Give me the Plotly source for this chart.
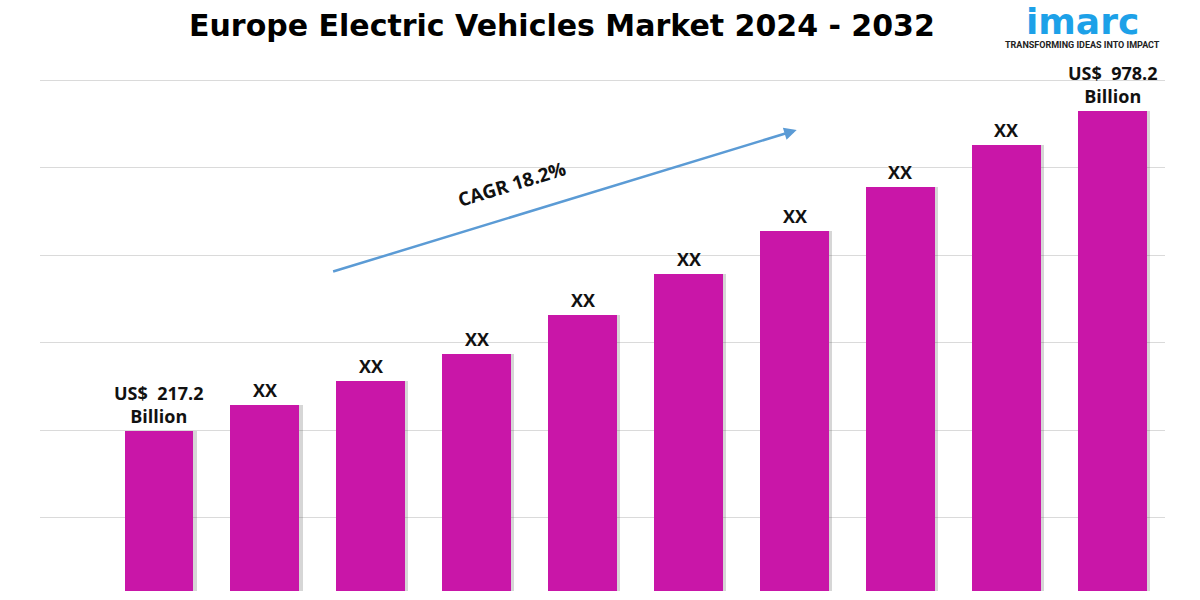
import plotly.graph_objects as go

# ---- data ----
years = ["2023", "2024", "2025", "2026", "2027", "2028", "2029", "2030", "2031", "2032"]
# bar heights (arbitrary chart units, baseline = 0)
bar_heights = [160, 186, 210, 237, 276, 317, 360, 404, 446, 480]
bar_labels = ["US$  217.2<br>Billion", "XX", "XX", "XX", "XX", "XX", "XX", "XX", "XX",
              "US$  978.2<br>Billion"]
title_text = "Europe Electric Vehicles Market 2024 - 2032"
cagr_text = "CAGR 18.2%"

BAR_COLOR = "#C916A8"
xs = list(range(len(years)))

fig = go.Figure()
# soft shadow
fig.add_trace(go.Bar(
    x=[x + 0.03 for x in xs], y=[h + 2 for h in bar_heights], base=-2, width=0.65,
    marker=dict(color="rgba(90,90,90,0.25)", line=dict(width=0)),
    hoverinfo="skip", showlegend=False))
fig.add_trace(go.Bar(
    x=xs, y=bar_heights, width=0.65,
    marker=dict(color=BAR_COLOR, line=dict(width=0)),
    customdata=years, hovertemplate="%{customdata}<extra></extra>", showlegend=False))

for x, h, lab in zip(xs, bar_heights, bar_labels):
    fig.add_annotation(x=x, y=h, text="<b>%s</b>" % lab, showarrow=False,
                       xref="x", yref="y", yanchor="bottom", yshift=1,
                       font=dict(family="Open Sans", size=18, color="#111"))

# CAGR arrow
fig.add_annotation(x=6.02, y=461, ax=1.63, ay=319, xref="x", yref="y", axref="x", ayref="y",
                   text="", showarrow=True, arrowhead=2, arrowsize=1, arrowwidth=2.5,
                   arrowcolor="#5B9BD5")
fig.add_annotation(x=512, y=184, xref="paper", yref="paper", text="<b>%s</b>" % cagr_text,
                   showarrow=False, textangle=-17,
                   font=dict(family="Open Sans", size=19, color="#111"))

# title
fig.add_annotation(x=562, y=25, xref="paper", yref="paper", text="<b>%s</b>" % title_text,
                   showarrow=False, font=dict(family="DejaVu Sans", size=30, color="#000"))

# logo
fig.add_annotation(x=1082, y=21, xref="paper", yref="paper", text="<b>imarc</b>",
                   showarrow=False,
                   font=dict(family="DejaVu Sans", size=36, color="#1DA1E8"))
fig.add_annotation(x=1082, y=45, xref="paper", yref="paper",
                   text="<b>TRANSFORMING IDEAS INTO IMPACT</b>", showarrow=False,
                   font=dict(family="Roboto", size=9, color="#222"))

# convert pixel-placed annotations (title, logo, cagr text) to paper coords
W, H = 1200, 600
ML, MR, MT, MB = 40, 35, 70, 9
pw, ph = W - ML - MR, H - MT - MB
for a in fig.layout.annotations:
    if a.xref == "paper":
        px, py = a.x, a.y
        a.x = (px - ML) / pw
        a.y = (H - MB - py) / ph
        a.xanchor = "center"
        a.yanchor = "middle"

fig.update_layout(
    width=W, height=H,
    margin=dict(l=ML, r=MR, t=MT, b=MB, pad=0),
    plot_bgcolor="white", paper_bgcolor="white",
    barmode="overlay", bargap=0,
    xaxis=dict(range=[-1.123, 9.497], showticklabels=False, showgrid=False,
               zeroline=False, showline=False, ticks=""),
    yaxis=dict(range=[0, 521], showticklabels=False, showgrid=True, gridcolor="#DADADA",
               gridwidth=1, tick0=73.5, dtick=87.5, zeroline=False, showline=False, ticks=""),
)

fig.write_html("out.html")
